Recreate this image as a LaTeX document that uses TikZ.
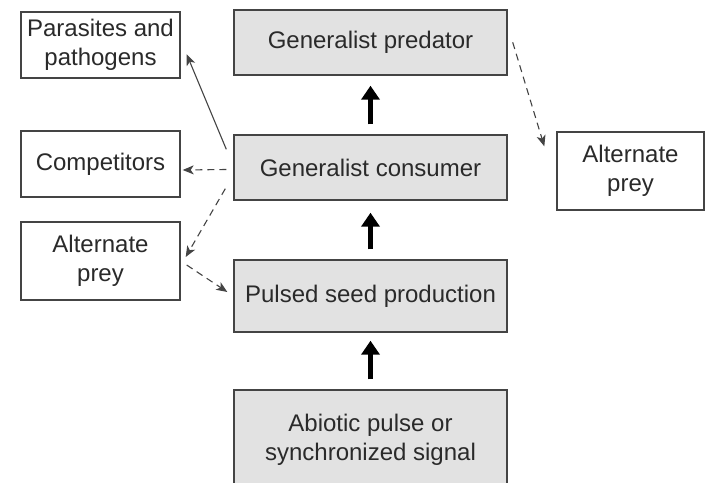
\documentclass[tikz,border=0pt]{standalone}
\usepackage{fontspec}
\setmainfont{Liberation Sans}
\usetikzlibrary{arrows.meta,calc}
\definecolor{boxfill}{HTML}{E2E2E2}
\definecolor{edge}{HTML}{444444}
\definecolor{txt}{HTML}{2A2A2A}
\begin{document}
\begin{tikzpicture}[x=1pt,y=-1pt,
  base/.style={draw=edge,line width=1.4pt,text=txt,align=center,inner sep=0pt,
    font=\fontsize{24}{29.5}\selectfont},
  mainbox/.style={base,fill=boxfill,minimum width=273pt},
  sidebox/.style={base,fill=white,minimum width=159pt},
  bigarrow/.style={line width=5pt,draw=black,-{Triangle[length=14pt,width=18pt]}},
  thinarrow/.style={draw=edge,line width=1.1pt,-{Stealth[length=11pt,width=9pt,inset=3pt]}},
  dasharrow/.style={thinarrow,dash pattern=on 7pt off 5pt}]
\useasboundingbox (0,0) rectangle (706,482);
\fill[white] (0,0) rectangle (706,482);
% main column
\node[mainbox,minimum height=65pt] (pred) at (370.5,42.5) {Generalist predator};
\node[mainbox,minimum height=65pt] (cons) at (370.5,167.5) {Generalist consumer};
\node[mainbox,minimum height=72pt] (seed) at (370.5,296) {Pulsed seed production};
\node[mainbox,minimum height=100pt] (abio) at (370.5,440) {Abiotic pulse or\\synchronized signal};
% side boxes
\node[sidebox,minimum height=66pt] (para) at (100.5,45) {Parasites and\\pathogens};
\node[sidebox,minimum height=66pt] (comp) at (100.5,164) {Competitors};
\node[sidebox,minimum height=78pt] (altl) at (100.5,261) {Alternate\\prey};
\node[base,fill=white,minimum width=147pt,minimum height=78pt] (altr) at (630.5,171) {Alternate\\prey};
% thick arrows
\draw[bigarrow] ($(cons.north)+(0,-10)$) -- ($(pred.south)+(0,10)$);
\draw[bigarrow] ($(seed.north)+(0,-10)$) -- ($(cons.south)+(0,12)$);
\draw[bigarrow] ($(abio.north)+(0,-10)$) -- ($(seed.south)+(0,8)$);
% thin connectors
\coordinate (c1) at ($(cons.north west)+(-7,15)$);
\coordinate (p1) at ($(para.north east)+(6,43)$);
\draw[thinarrow] (c1) -- (p1);
\coordinate (c2) at ($(cons.west)+(-7,2)$);
\coordinate (k2) at ($(comp.east)+(2,6)$);
\draw[dasharrow] (c2) -- (k2);
\coordinate (c3) at ($(cons.south west)+(-8,-12)$);
\coordinate (a3) at ($(altl.east)+(5,-4)$);
\draw[dasharrow] (c3) -- (a3);
\coordinate (a4) at ($(altl.east)+(6,4)$);
\coordinate (s4) at ($(seed.west)+(-6,-4)$);
\draw[dasharrow] (a4) -- (s4);
\coordinate (r5) at ($(pred.north east)+(5,33)$);
\coordinate (q5) at ($(altr.north west)+(-12,15)$);
\draw[dasharrow] (r5) -- (q5);
\end{tikzpicture}
\end{document}
